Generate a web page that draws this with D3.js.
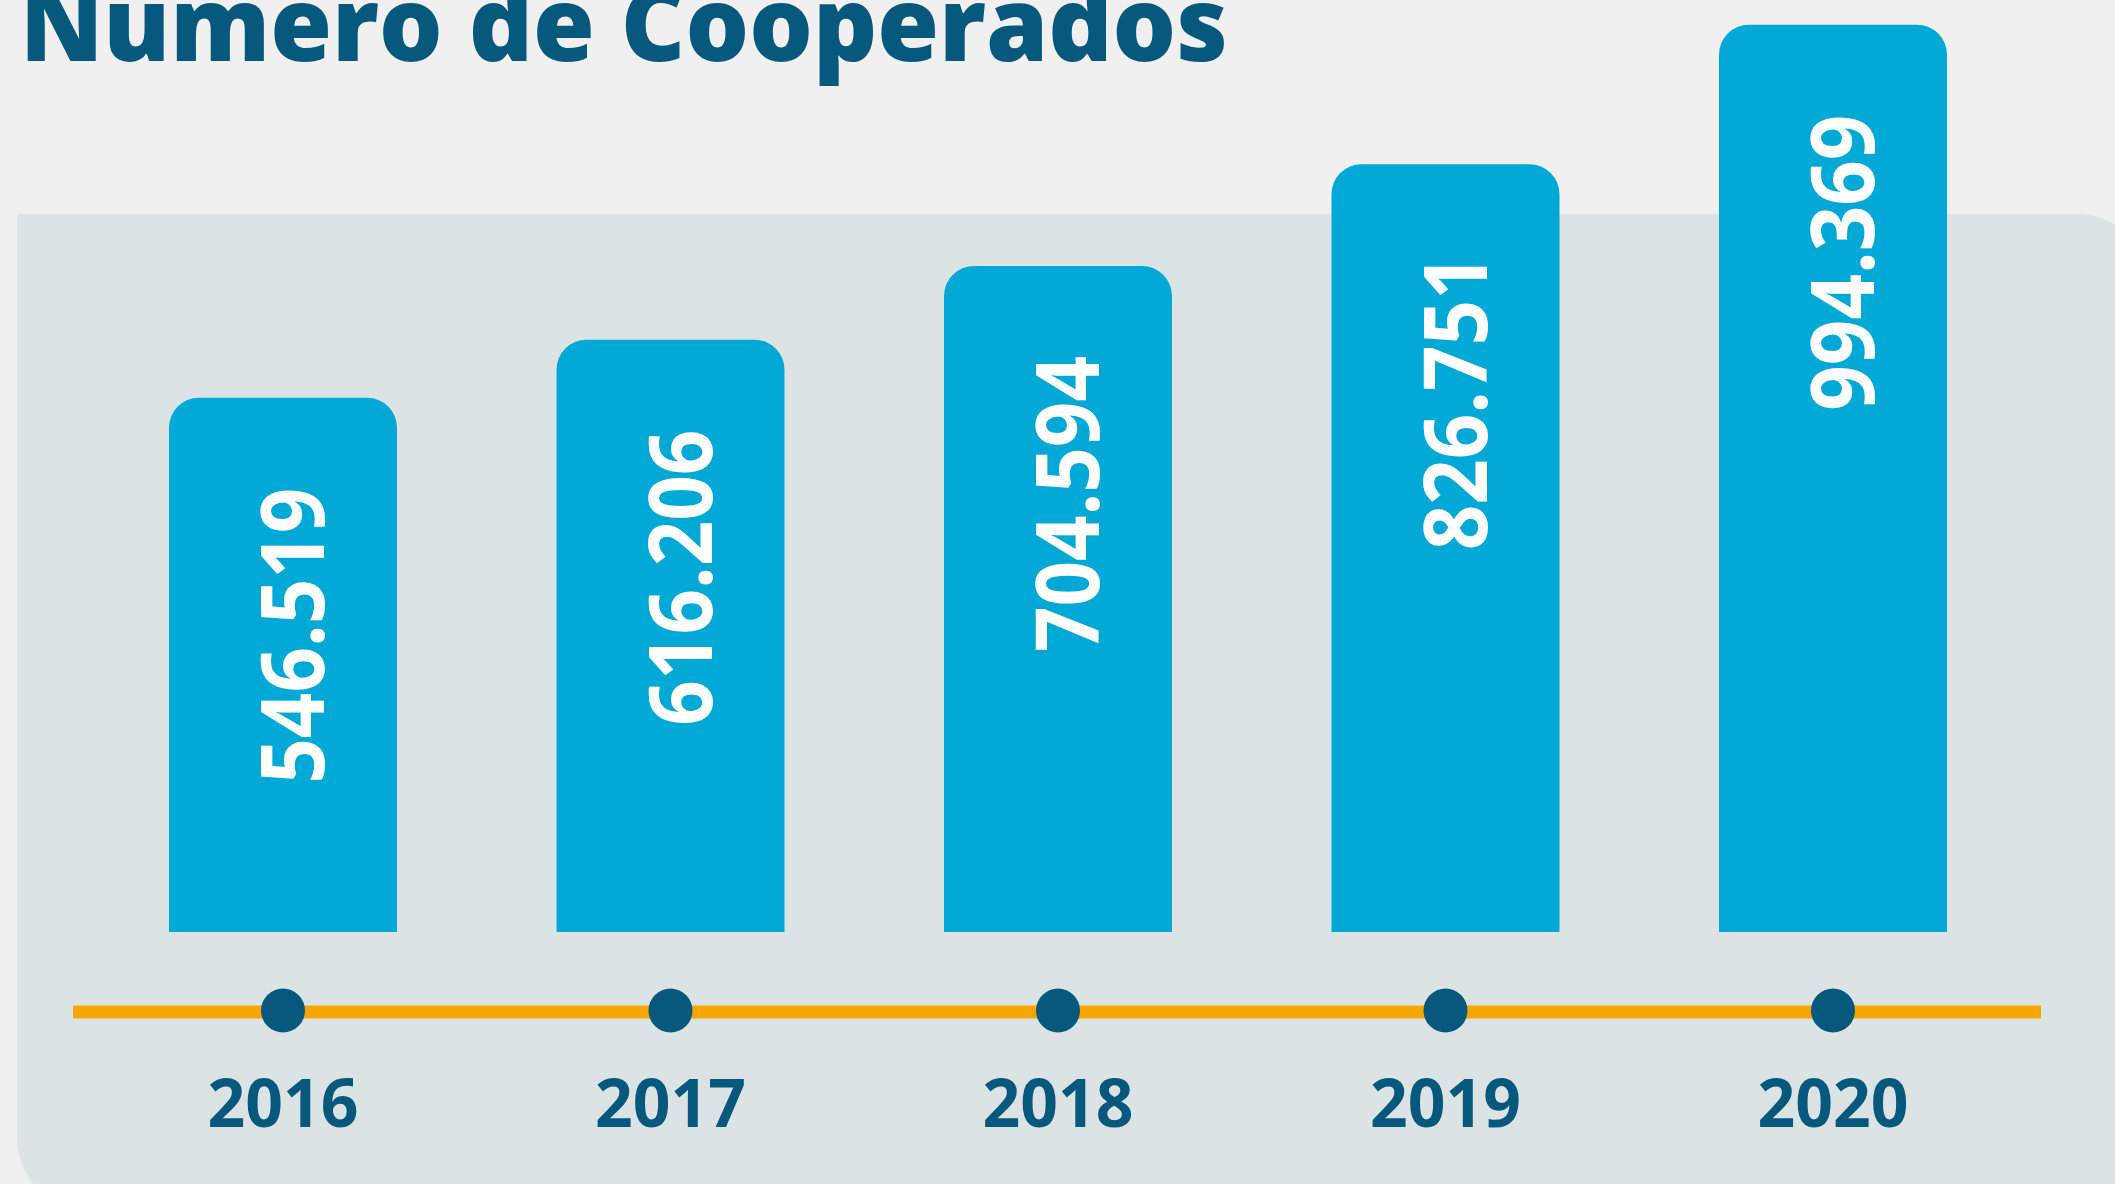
<!DOCTYPE html>
<html>
<head>
<meta charset="utf-8">
<script src="https://cdn.jsdelivr.net/npm/d3@7"></script>
<style>
  html, body { margin: 0; padding: 0; background: #f0f0f0; }
  svg { display: block; font-family: 'Open Sans', 'Noto Sans', sans-serif; }
</style>
</head>
<body>
<svg width="2115" height="1184"></svg>
<script>
// dados
const years = ['2016', '2017', '2018', '2019', '2020'];
const cooperados = [546519, 616206, 704594, 826751, 994369];
const titleText = 'Número de Cooperados';

const data = years.map((year, i) => ({ year, value: cooperados[i] }));

// formato brasileiro: 546.519
const br = d3.formatLocale({ decimal: ',', thousands: '.', grouping: [3], currency: ['R$', ''] });
const fmt = br.format(',d');

const svg = d3.select('svg');
const width = +svg.attr('width');
const height = +svg.attr('height');

const baseY = 932;      // base das barras
const lineY = 1012;     // linha do tempo
const barW = 228;
const radius = 30;

// escalas
const x = d3.scalePoint().domain(years).range([283, 1833]);
// as barras partem de um pequeno degrau abaixo do zero
const y = d3.scaleLinear().domain([-95000, 1000000]).range([baseY, 20]);

// fundo
svg.append('rect')
    .attr('width', width)
    .attr('height', height)
    .attr('fill', '#f0f0f0');

// painel: canto superior esquerdo reto, os outros arredondados
const panel = d3.path();
const pl = 17, pt = 214, pr = 2150, pb = 1210, pRad = 72;
panel.moveTo(pl, pt);
panel.lineTo(pr - pRad, pt);
panel.arcTo(pr, pt, pr, pt + pRad, pRad);
panel.lineTo(pr, pb);
panel.lineTo(pl + pRad, pb);
panel.arcTo(pl, pb, pl, pb - pRad, pRad);
panel.closePath();

svg.append('path')
    .attr('d', panel.toString())
    .attr('fill', '#dce3e5');

// título
svg.append('text')
    .attr('x', 20)
    .attr('y', 61)
    .attr('fill', '#07587d')
    .attr('font-size', 102)
    .attr('font-weight', 800)
    .attr('textLength', 1208)
    .attr('lengthAdjust', 'spacingAndGlyphs')
    .text(titleText);

// barra com cantos superiores arredondados
function barPath(d) {
    const x0 = x(d.year) - barW / 2;
    const x1 = x(d.year) + barW / 2;
    const top = y(d.value);
    const p = d3.path();
    p.moveTo(x0, baseY);
    p.lineTo(x0, top + radius);
    p.arcTo(x0, top, x0 + radius, top, radius);
    p.lineTo(x1 - radius, top);
    p.arcTo(x1, top, x1, top + radius, radius);
    p.lineTo(x1, baseY);
    p.closePath();
    return p.toString();
}

svg.append('g')
    .selectAll('path')
    .data(data)
    .enter()
    .append('path')
    .attr('d', barPath)
    .attr('fill', '#02a9d6');

// valores (rotacionados)
svg.append('g')
    .selectAll('text')
    .data(data)
    .enter()
    .append('text')
    .attr('transform', (d) => `translate(${x(d.year) + 41},${y(d.value) + 90}) rotate(-90)`)
    .attr('text-anchor', 'end')
    .attr('fill', '#ffffff')
    .attr('font-size', 88)
    .attr('font-weight', 700)
    .attr('textLength', 296)
    .attr('lengthAdjust', 'spacingAndGlyphs')
    .text((d) => fmt(d.value));

// linha do tempo
svg.append('rect')
    .attr('x', 73)
    .attr('y', lineY - 6.5)
    .attr('width', 2041 - 73)
    .attr('height', 13)
    .attr('fill', '#f6a600');

svg.append('g')
    .selectAll('circle')
    .data(data)
    .enter()
    .append('circle')
    .attr('cx', (d) => x(d.year))
    .attr('cy', lineY - 1.5)
    .attr('r', 22)
    .attr('fill', '#07587d');

// anos
svg.append('g')
    .selectAll('text')
    .data(data)
    .enter()
    .append('text')
    .attr('x', (d) => x(d.year))
    .attr('y', 1127)
    .attr('text-anchor', 'middle')
    .attr('fill', '#07587d')
    .attr('font-size', 66)
    .attr('font-weight', 700)
    .text((d) => d.year);
</script>
</body>
</html>
